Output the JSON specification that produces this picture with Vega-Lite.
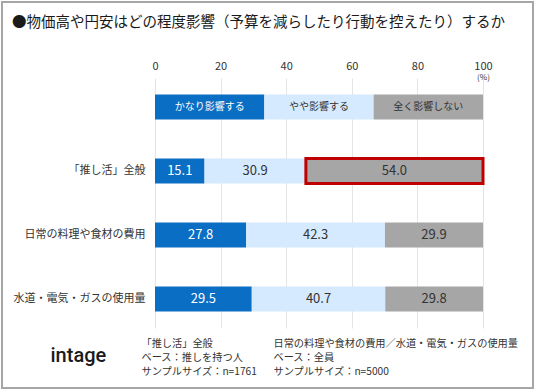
{
  "$schema": "https://vega.github.io/schema/vega-lite/v6.json",
  "width": 531,
  "height": 386,
  "autosize": {"type": "none"},
  "padding": {"left": 2, "top": 2, "right": 3, "bottom": 4},
  "background": "white",
  "config": {
    "view": {"stroke": "#a6a6a6", "strokeWidth": 2},
    "font": "Noto Sans CJK JP"
  },
  "title": {
    "text": "●物価高や円安はどの程度影響（予算を減らしたり行動を控えたり）するか",
    "anchor": "start",
    "frame": "group",
    "offset": -28,
    "dx": 10,
    "fontSize": 14.5,
    "font": "Noto Sans CJK JP",
    "fontWeight": "normal",
    "color": "#1a1a1a"
  },
  "data": {
    "values": [
      {"item": "凡例", "response": "かなり影響する", "value": 33.33},
      {"item": "凡例", "response": "やや影響する", "value": 33.33},
      {"item": "凡例", "response": "全く影響しない", "value": 33.34},
      {"item": "「推し活」全般", "response": "かなり影響する", "value": 15.1},
      {"item": "「推し活」全般", "response": "やや影響する", "value": 30.9},
      {"item": "「推し活」全般", "response": "全く影響しない", "value": 54.0},
      {"item": "日常の料理や食材の費用", "response": "かなり影響する", "value": 27.8},
      {"item": "日常の料理や食材の費用", "response": "やや影響する", "value": 42.3},
      {"item": "日常の料理や食材の費用", "response": "全く影響しない", "value": 29.9},
      {"item": "水道・電気・ガスの使用量", "response": "かなり影響する", "value": 29.5},
      {"item": "水道・電気・ガスの使用量", "response": "やや影響する", "value": 40.7},
      {"item": "水道・電気・ガスの使用量", "response": "全く影響しない", "value": 29.8}
    ]
  },
  "resolve": {"axis": {"x": "independent", "y": "independent"}},
  "layer": [
    {
      "mark": {"type": "bar"},
      "encoding": {
        "x": {
          "field": "value", "type": "quantitative", "stack": "zero",
          "scale": {"domain": [0, 100], "range": [153, 481], "nice": false},
          "axis": {
            "orient": "top", "offset": -76, "values": [0, 20, 40, 60, 80, 100],
            "domain": false, "ticks": false, "grid": true, "gridColor": "#e4e4e4", "gridWidth": 1,
            "labelFontSize": 11, "labelColor": "#333333", "labelFont": "Noto Sans CJK JP", "labelPadding": 7, "labelFlush": false,
            "title": "(%)", "titleX": 481, "titleY": -0.5, "titleAlign": "center", "titleBaseline": "middle",
            "titleFontSize": 8, "titleFontWeight": "normal", "titleColor": "#333333", "titleFont": "Noto Sans CJK JP"
          }
        },
        "y": {
          "field": "item", "type": "nominal", "sort": null,
          "scale": {
            "domain": ["凡例", "「推し活」全般", "日常の料理や食材の費用", "水道・電気・ガスの使用量"],
            "range": [76, 326], "paddingInner": 0.61, "paddingOuter": 0.258
          },
          "axis": {
            "orient": "left", "offset": -146, "domain": false, "ticks": false, "grid": false,
            "labelPadding": 3, "labelFontSize": 11, "labelColor": "#333333", "labelFont": "Noto Sans CJK JP",
            "labelExpr": "datum.value === '凡例' ? '' : datum.label",
            "title": ["「推し活」全般", "ベース：推しを持つ人", "サンプルサイズ：n=1761"],
            "titleAngle": 0, "titleAlign": "left", "titleBaseline": "top", "titleX": -7, "titleY": 336,
            "titleFontSize": 10.2, "titleLineHeight": 14, "titleFontWeight": "normal", "titleColor": "#333333", "titleFont": "Noto Sans CJK JP"
          }
        },
        "color": {
          "field": "response", "type": "nominal",
          "scale": {"domain": ["かなり影響する", "やや影響する", "全く影響しない"], "range": ["#0a6ec4", "#d6eaff", "#a6a6a6"]},
          "legend": null
        },
        "order": {"field": "response", "sort": "ascending"}
      }
    },
    {
      "mark": {"type": "text", "font": "Noto Sans CJK JP", "baseline": "middle", "align": "center"},
      "encoding": {
        "x": {
          "field": "value", "type": "quantitative", "stack": "zero", "bandPosition": 0.5,
          "axis": {
            "orient": "bottom", "labels": false, "ticks": false, "domain": false, "grid": false,
            "title": ["日常の料理や食材の費用／水道・電気・ガスの使用量", "ベース：全員", "サンプルサイズ：n=5000"],
            "titleX": 271, "titleY": -50, "titleAlign": "left", "titleBaseline": "top",
            "titleFontSize": 10.2, "titleLineHeight": 14, "titleFontWeight": "normal", "titleColor": "#333333", "titleFont": "Noto Sans CJK JP"
          }
        },
        "y": {
          "field": "item", "type": "nominal", "sort": null,
          "axis": {
            "orient": "right", "labels": false, "ticks": false, "domain": false, "grid": false,
            "title": "intage", "titleAngle": 0, "titleX": -483, "titleY": 353, "titleAlign": "left", "titleBaseline": "middle",
            "titleFontSize": 20, "titleFont": "Roboto", "titleFontWeight": 500, "titleColor": "#1a1a1a"
          }
        },
        "detail": {"field": "response", "type": "nominal"},
        "order": {"field": "response", "sort": "ascending"},
        "text": {
          "condition": {"test": "datum.item === '凡例'", "field": "response", "type": "nominal"},
          "field": "value", "type": "quantitative", "format": ".1f"
        },
        "color": {
          "condition": {"test": "datum.response === 'かなり影響する'", "value": "#ffffff"},
          "value": "#333333"
        },
        "size": {
          "condition": {"test": "datum.item === '凡例'", "value": 10},
          "value": 13
        }
      }
    },
    {
      "transform": [
        {"stack": "value", "groupby": ["item"], "sort": [{"field": "response", "order": "ascending"}], "as": ["x0", "x1"]},
        {"filter": "datum.item === '「推し活」全般' && datum.response === '全く影響しない'"}
      ],
      "mark": {"type": "bar", "fill": "transparent", "stroke": "#c00000", "strokeWidth": 3},
      "encoding": {
        "x": {"field": "x0", "type": "quantitative", "axis": null},
        "x2": {"field": "x1"},
        "y": {"field": "item", "type": "nominal", "sort": null, "axis": null}
      }
    }
  ]
}
